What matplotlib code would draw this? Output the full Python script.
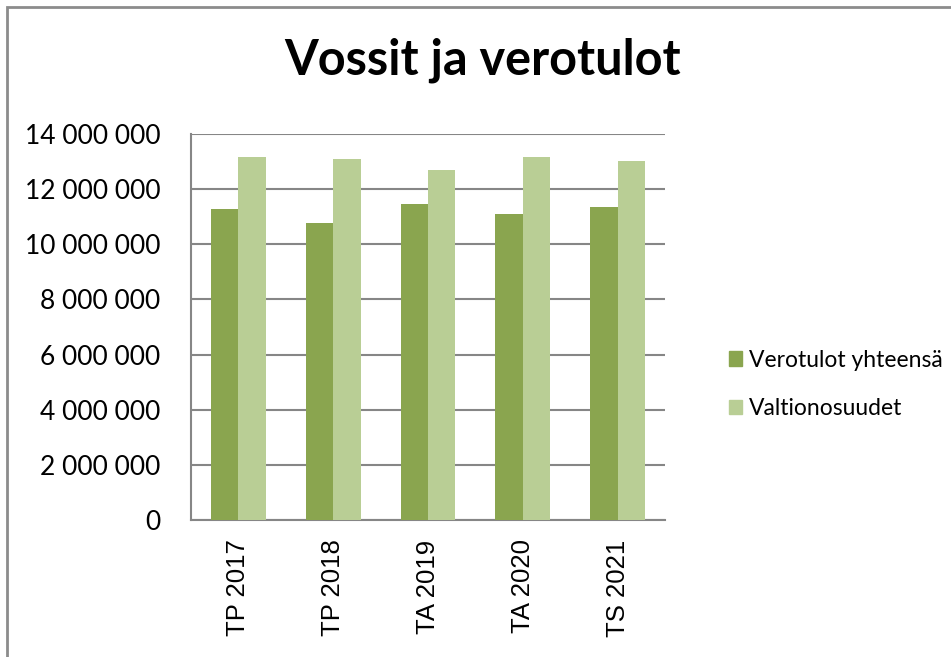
import matplotlib
matplotlib.use('Agg')
import matplotlib.pyplot as plt
import numpy as np
from matplotlib.patches import Patch, Rectangle
from matplotlib.ticker import FuncFormatter, MultipleLocator

categories = ['TP 2017', 'TP 2018', 'TA 2019', 'TA 2020', 'TS 2021']
verotulot = [11280000, 10780000, 11450000, 11110000, 11360000]
valtionosuudet = [13180000, 13090000, 12680000, 13180000, 13010000]
series_names = ['Verotulot yhteensä', 'Valtionosuudet']

dark_green = '#8aa54f'
light_green = '#b9ce95'
grid_col = '#868686'

fig = plt.figure(figsize=(9.51, 6.57), dpi=100)
ax = fig.add_axes([191 / 951, 1 - 520 / 657, 474 / 951, 386 / 657])

x = np.arange(len(categories))
w = 0.288
ax.bar(x - w / 2, verotulot, width=w, color=dark_green, zorder=3)
ax.bar(x + w / 2, valtionosuudet, width=w, color=light_green, zorder=3)

ax.set_xlim(-0.5, len(categories) - 0.5)
ax.set_ylim(0, 14000000)
ax.yaxis.set_major_locator(MultipleLocator(2000000))
ax.yaxis.set_major_formatter(FuncFormatter(lambda v, p: f'{int(v):,}'.replace(',', ' ')))
ax.grid(axis='y', color=grid_col, linewidth=1.5, zorder=0)

for s in ['top', 'right']:
    ax.spines[s].set_visible(False)
for s in ['left', 'bottom']:
    ax.spines[s].set_color(grid_col)
    ax.spines[s].set_linewidth(1.5)

ax.set_xticks(x)
ax.set_xticklabels(categories, rotation=90, fontsize=18.5, family='Liberation Sans')
ax.tick_params(axis='x', length=0, pad=14)
ax.tick_params(axis='y', length=0, pad=22)
for lab in ax.get_yticklabels():
    lab.set_fontfamily('Lato')
    lab.set_fontsize(19)

fig.text(483 / 951, 1 - 60 / 657, 'Vossit ja verotulot', ha='center', va='center',
         fontsize=35, fontweight='bold', family='Lato')

handles = [Patch(color=dark_green), Patch(color=light_green)]
fig.legend(handles, series_names, loc='upper left', bbox_to_anchor=(708 / 951, 1 - 329 / 657),
           frameon=False, prop={'family': 'Lato', 'size': 16.5},
           handlelength=0.6, handleheight=0.6, handletextpad=0.3, labelspacing=1.2)

# outer chart border, running off the right and bottom edges
fig.patches.append(Rectangle((7, -100), 1100, 657 - 7 + 100, transform=None, fill=False,
                             edgecolor='#8c8c8c', linewidth=2, zorder=10))

fig.savefig('out.png', dpi=100)
